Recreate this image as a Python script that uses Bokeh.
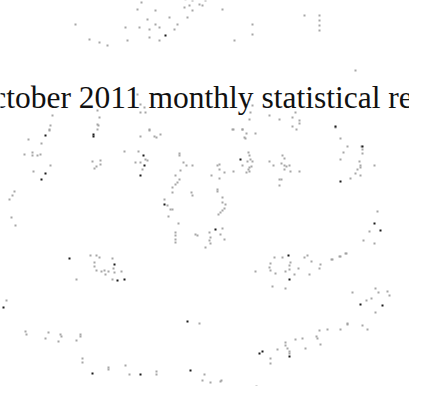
from bokeh.plotting import figure
from bokeh.models import Range1d, ColumnDataSource
from bokeh.core.properties import value
from bokeh.embed import file_html
from bokeh.resources import INLINE

# Title text of the scanned page (cut off on both sides in the reference)
title_text = ["October 2011 monthly statistical report"]
title_x = [-23]
title_y = [105]

# Faint scan specks (image pixel coordinates)
gray_pts = [
    (149,10),(178,5),(189,5),(193,7),(200,8),(207,12),(213,8),(220,3),(210,13),(197,13),
    (192,15),(200,18),(163,18),(145,17),(155,27),(177,25),(195,25),(230,17),(185,32),(163,32),
    (167,35),(157,37),(147,35),(133,35),(182,37),(83,32),(97,47),(107,50),(115,53),(135,48),
    (157,45),(167,48),(242,48),(260,32),(260,42),(312,23),(327,23),(327,28),(327,33),(327,38),
    (2,72),(363,78),
    (105,118),(107,125),(105,132),(60,123),(57,137),(148,112),(152,115),(153,120),(148,120),
    (157,137),(145,102),(257,107),(260,113),(258,120),(257,127),(277,123),(287,127),(300,125),
    (307,128),(303,120),(240,137),(250,137),(343,135),
    (58,133),(57,138),(36,147),(49,151),(32,162),(40,160),(40,163),(45,163),(48,162),
    (58,173),(41,179),(22,199),(20,203),(17,207),(19,225),(23,233),
    (106,133),(105,137),(100,169),(108,168),(108,172),(104,174),(102,176),
    (157,138),(162,144),(164,145),(168,142),(148,144),(132,159),(146,159),(153,167),(155,168),
    (148,170),(150,177),(143,170),
    (187,161),(187,163),(191,170),(194,173),(200,173),(188,178),(183,183),(187,187),(185,190),
    (183,192),(180,195),(180,200),(172,207),(175,213),(178,217),(180,217),(176,224),(199,200),
    (200,203),(186,231),(183,240),(183,243),(183,247),(183,250),(203,242),(205,243),(217,240),
    (218,245),(217,248),(218,251),(213,255),(228,242),(230,236),(232,247),
    (225,173),(227,172),(227,177),(232,180),(219,183),(227,186),(225,197),(225,199),(230,205),
    (230,210),(233,212),(232,216),(230,218),(228,220),(226,222),
    (241,137),(250,137),(254,141),(252,145),(253,146),(263,141),(256,160),(257,163),(258,167),
    (260,169),(255,169),(250,173),(257,175),(259,174),(256,177),(254,180),(257,179),(241,179),
    (300,134),(304,137),(307,131),(277,169),(281,173),(290,163),(292,166),(289,171),(292,173),
    (294,174),(297,173),(292,177),(298,179),(307,179),(287,187),(289,187),(287,193),
    (348,146),(355,154),(369,154),(370,157),(351,160),(370,161),(348,167),(367,169),(368,173),
    (368,175),(382,173),(365,177),(363,181),(368,183),(358,186),
    (385,219),(377,239),(371,248),(382,251),(353,261),(348,264),(340,267),
    (98,263),(104,263),(107,265),(120,266),(102,270),(102,274),(121,276),(104,278),(109,279),
    (112,278),(116,279),(113,282),(122,280),(129,279),(84,287),(120,287),
    (14,308),(33,339),(34,342),(56,340),(53,346),(68,342),(69,344),(66,349),(88,342),(88,344),
    (84,348),(90,366),(90,370),(116,375),(116,377),(133,373),(137,382),(164,379),(164,382),
    (207,331),(212,382),(210,388),(218,390),(229,388),(228,389),(242,398),(264,394),
    (282,265),(290,265),(312,265),(315,263),(319,269),(339,267),(347,264),(354,261),
    (278,271),(277,275),(278,278),(283,281),(298,270),(297,273),(306,276),(293,279),(297,277),
    (302,282),(317,282),(328,272),(327,276),(263,279),(280,294),(293,296),
    (360,300),(383,296),(386,300),(395,299),(397,303),(379,306),(374,308),(383,320),(418,293),
    (355,331),(355,332),(370,333),(375,337),(348,337),(335,337),(327,338),(324,344),(325,346),
    (310,346),(303,347),(328,352),(293,350),(293,353),(313,356),(295,356),(285,357),(297,359),
    (297,361),(278,366),(278,371),
]
dark_pts = [
    (173,43),(53,143),(53,181),(49,187),(101,142),(101,144),(151,163),(152,173),(148,183),
    (343,134),(348,189),(388,238),(382,231),(370,154),(248,167),(223,237),(172,212),
    (77,266),(122,272),(132,287),(125,288),(11,315),(100,381),(148,382),(198,378),(195,329),
    (296,263),(297,287),(368,312),(390,313),(267,361),(270,359),(297,364),
]

gx = [p[0] for p in gray_pts]
gy = [p[1] for p in gray_pts]
dx = [p[0] for p in dark_pts]
dy = [p[1] for p in dark_pts]

W, H = 409, 386
p = figure(width=W, height=H, output_backend="svg", toolbar_location=None,
           x_range=Range1d(8, 8 + W), y_range=Range1d(8 + H, 8),
           min_border=0, background_fill_color="white", border_fill_color="white")
p.axis.visible = False
p.grid.visible = False
p.outline_line_color = None

p.scatter(gx, gy, marker="square", size=2, fill_color="#9c9c9c", line_color=None, alpha=0.9)
p.scatter(dx, dy, marker="square", size=2, fill_color="#1a1a1a", line_color=None)

src = ColumnDataSource(dict(x=title_x, y=title_y, t=title_text))
p.text(x="x", y="y", text="t", source=src, text_font=value("Liberation Serif"),
       text_font_size="31.5px", text_color="#111111", text_align="left",
       text_baseline="alphabetic")

open("out.html", "w").write(file_html(p, INLINE))
